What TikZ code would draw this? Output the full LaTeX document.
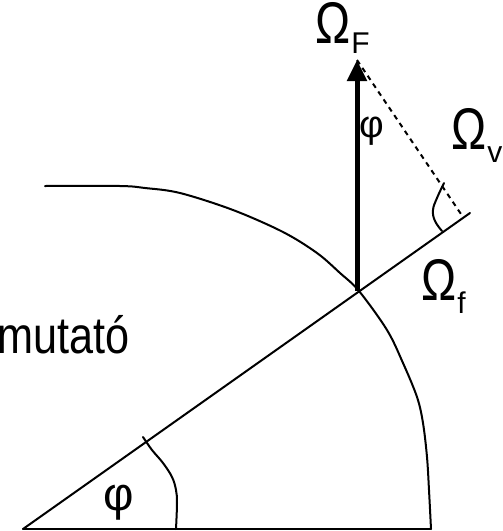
\documentclass[tikz,border=0pt]{standalone}
\usepackage{fontspec}
\setmainfont{Liberation Sans}
\usetikzlibrary{arrows.meta}
\newcommand\omsub[2]{\scalebox{1}[1.25]{Ω}\kern0.5pt\raisebox{-#2}{\fontsize{30}{30}\selectfont #1}}
\tikzset{
  thinline/.style={line width=2pt, line cap=round, line join=round},
  vecline/.style={line width=5pt, -{Triangle[width=19pt,length=21pt]}},
  dashline/.style={line width=2pt, dash pattern=on 5pt off 4.5pt},
  lbl/.style={inner sep=0pt, anchor=base west, font=\fontsize{47}{47}\selectfont},
  philbl/.style={inner sep=0pt, anchor=center},
}
\begin{document}
\begin{tikzpicture}[x=1pt,y=-1pt]
\useasboundingbox (0,0) rectangle (503,531);
\coordinate (O) at (23,529);
\coordinate (B) at (431,529);
\coordinate (E) at (470,213);
\coordinate (P) at (359,291);
\coordinate (S) at (357,291);
\coordinate (T) at (357,60);
\coordinate (D) at (463,217);
% base and sloped lines
\draw[thinline] (O) -- (B);
\draw[thinline] (O) -- (E);
% big curve
\draw[thinline] plot[smooth, tension=0.55] coordinates {(45,186) (120,186) (145,188) (180,193) (233,210) (283,232) (317,253) (340,273) (P) (387,330) (403,363) (417,397) (423,423) (427,457) (429,490) (B)};
% lower angle arc
\draw[thinline] plot[smooth, tension=0.6] coordinates {(143,437) (152,450) (163,463) (172,477) (176,490) (177,503) (176,529)};
% upper small angle arc
\draw[thinline] plot[smooth, tension=0.7] coordinates {(444,183) (437,198) (433,210) (435,221) (442,231)};
% vector
\draw[vecline] (S) -- (T);
\draw[dashline] (T) -- (D);
% labels
\node[lbl] (omF) at (315.5,43) {\omsub{F}{10pt}};
\node[lbl] (omv) at (451.5,149) {\omsub{v}{13pt}};
\node[lbl] (omf) at (421.5,300) {\omsub{f}{13pt}};
\node[lbl] (mut) at (-3,353) {\scalebox{0.92}[1.1]{mutató}};
\node[philbl, font=\fontsize{38}{38}\selectfont] (phi1) at (371.5,131) {φ};
\node[philbl, font=\fontsize{47}{47}\selectfont] (phi2) at (119,502.5) {φ};
\end{tikzpicture}
\end{document}
